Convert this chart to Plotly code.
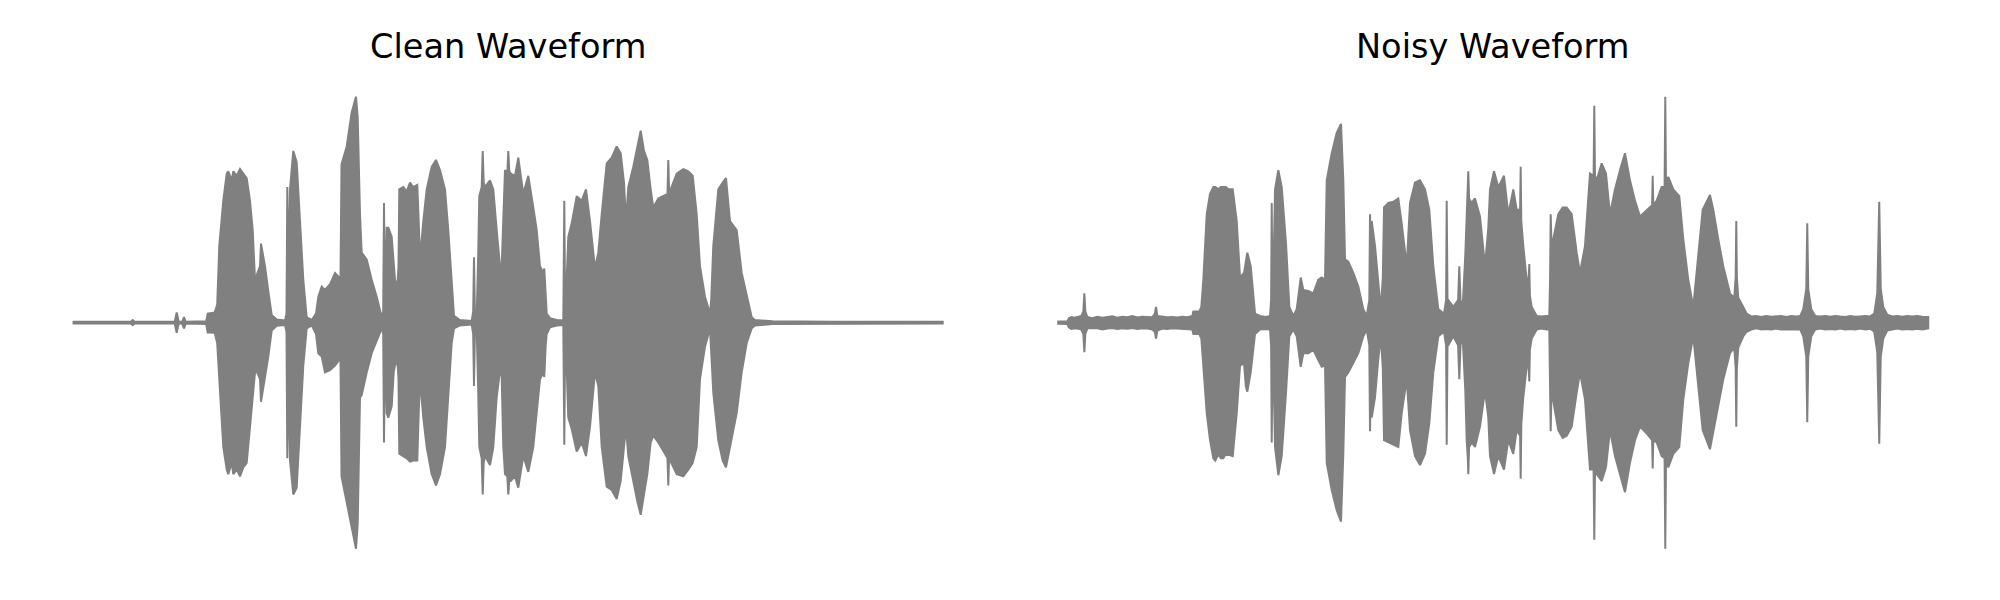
import plotly.graph_objects as go

# ---------------- data (envelope of the waveforms) ----------------
# time in frames, amplitude normalised
clean_t = [0, 58, 60, 62, 102, 104, 106, 109.5, 111.3, 113, 133.5, 135, 142, 144.5, 146.6, 150.6, 154, 155.6,
           159, 160.6, 164, 167.3, 170.6, 174, 177.3, 180, 182.3, 184.6, 187.3, 188.3, 190, 192.3, 195.6, 199,
           204, 212.3, 213.8, 214.6, 215.6, 217.3, 220.6, 224, 227.3, 230.6, 234, 239, 243.3, 245.6, 249, 252.3,
           257.3, 262.3, 266.6, 267.8, 268.8, 274, 279, 283.3, 285, 287.3, 289, 294, 299, 304, 309, 310.5, 311.3,
           312.3, 314, 315.6, 319, 321, 322.3, 324.6, 325.8, 326.6, 330.6, 334, 337.3, 340.6, 344.6, 346, 347.3,
           350.6, 354, 359, 363.3, 367.3, 372.3, 375.6, 379, 381.3, 387.3, 399, 400.5, 401.3, 402.2, 404, 405.5,
           406.6, 409, 410, 411, 412.3, 417.3, 420.6, 424, 427.3, 429, 430.6, 432.3, 434.6, 435.6, 436.6, 438,
           442.3, 445.6, 450.6, 455.6, 460.6, 464, 467.3, 470.6, 471.6, 473, 474, 477.3, 484, 490.6, 491.2, 491.6,
           492.2, 493.3, 495.6, 499, 504, 509, 513.3, 517.3, 522.3, 525.6, 529, 534, 539, 544, 548, 551.3, 553.3,
           555.6, 560.6, 564.6, 568, 571.3, 574.6, 578, 580.6, 585.6, 592.3, 594.8, 595.6, 596.4, 598, 604, 610.6,
           615.6, 620, 624, 627.3, 632.3, 637.3, 638.5, 640.6, 645.6, 650, 653.3, 657.3, 664, 669, 674, 679,
           682.3, 700, 760, 870]
clean_upper = [0.004, 0.004, 0.012, 0.004, 0.004, 0.045, 0.004, 0.004, 0.025, 0.004, 0.006, 0.04, 0.045, 0.08,
               0.34, 0.54, 0.66, 0.67, 0.63, 0.67, 0.65, 0.68, 0.66, 0.64, 0.54, 0.41, 0.19, 0.22, 0.25, 0.35,
               0.31, 0.25, 0.14, 0.034, 0.014, 0.01, 0.04, 0.60, 0.19, 0.59, 0.76, 0.71, 0.45, 0.19, 0.024, 0.012,
               0.04, 0.115, 0.16, 0.145, 0.17, 0.22, 0.20, 0.20, 0.70, 0.78, 0.93, 1.0, 0.91, 0.48, 0.31, 0.28,
               0.19, 0.115, 0.024, 0.05, 0.53, 0.08, 0.42, 0.42, 0.38, 0.25, 0.19, 0.16, 0.25, 0.59, 0.60, 0.58,
               0.62, 0.60, 0.61, 0.45, 0.28, 0.45, 0.59, 0.69, 0.72, 0.675, 0.59, 0.41, 0.16, 0.03, 0.012, 0.008,
               0.05, 0.29, 0.05, 0.03, 0.30, 0.56, 0.60, 0.76, 0.62, 0.60, 0.63, 0.59, 0.41, 0.25, 0.25, 0.48,
               0.675, 0.66, 0.76, 0.67, 0.66, 0.65, 0.73, 0.57, 0.65, 0.51, 0.41, 0.25, 0.22, 0.24, 0.10, 0.04,
               0.02, 0.012, 0.01, 0.20, 0.54, 0.20, 0.11, 0.38, 0.44, 0.56, 0.54, 0.59, 0.45, 0.24, 0.31, 0.48,
               0.705, 0.73, 0.78, 0.75, 0.62, 0.45, 0.60, 0.69, 0.78, 0.85, 0.76, 0.72, 0.59, 0.51, 0.55, 0.565,
               0.57, 0.72, 0.58, 0.59, 0.66, 0.68, 0.67, 0.65, 0.48, 0.25, 0.115, 0.04, 0.10, 0.34, 0.59, 0.62,
               0.64, 0.45, 0.41, 0.22, 0.115, 0.024, 0.012, 0.006, 0.004, 0.004]
clean_lower = [-0.004, -0.004, -0.010, -0.004, -0.004, -0.045, -0.004, -0.004, -0.025, -0.004, -0.006, -0.044,
               -0.045, -0.09, -0.25, -0.55, -0.65, -0.67, -0.62, -0.67, -0.65, -0.68, -0.64, -0.62, -0.47, -0.33,
               -0.22, -0.22, -0.25, -0.35, -0.31, -0.25, -0.15, -0.035, -0.014, -0.01, -0.04, -0.60, -0.19, -0.61,
               -0.76, -0.73, -0.47, -0.19, -0.025, -0.012, -0.05, -0.135, -0.15, -0.22, -0.21, -0.19, -0.165,
               -0.17, -0.68, -0.785, -0.90, -1.0, -0.89, -0.33, -0.32, -0.22, -0.135, -0.077, -0.025, -0.05, -0.53,
               -0.08, -0.40, -0.42, -0.37, -0.22, -0.19, -0.16, -0.25, -0.58, -0.59, -0.60, -0.615, -0.61, -0.61,
               -0.40, -0.25, -0.42, -0.55, -0.67, -0.72, -0.67, -0.55, -0.34, -0.09, -0.025, -0.012, -0.008, -0.05,
               -0.28, -0.05, -0.025, -0.30, -0.55, -0.60, -0.76, -0.62, -0.59, -0.63, -0.55, -0.33, -0.21, -0.24,
               -0.55, -0.67, -0.68, -0.76, -0.70, -0.70, -0.68, -0.73, -0.59, -0.66, -0.55, -0.40, -0.25, -0.22,
               -0.24, -0.10, -0.05, -0.02, -0.012, -0.01, -0.20, -0.54, -0.20, -0.11, -0.42, -0.47, -0.57, -0.53,
               -0.59, -0.46, -0.22, -0.28, -0.55, -0.725, -0.74, -0.78, -0.70, -0.55, -0.46, -0.59, -0.70, -0.79,
               -0.85, -0.755, -0.67, -0.53, -0.50, -0.53, -0.58, -0.60, -0.72, -0.60, -0.61, -0.67, -0.68, -0.65,
               -0.62, -0.55, -0.25, -0.106, -0.025, -0.10, -0.31, -0.52, -0.61, -0.64, -0.55, -0.40, -0.22, -0.09,
               -0.025, -0.012, -0.006, -0.004, -0.004]

noisy_t = [0, 10, 11.5, 14, 17, 20, 24, 26, 27, 28, 30, 35, 40, 45, 50, 55, 60, 65, 70, 75, 80, 85, 90, 95,
           97.5, 98.7, 100, 105, 110, 115, 120, 125, 130, 135, 136, 142, 144, 146, 149.4, 152.7, 156, 158, 161,
           163.5, 166, 168.5, 171, 175.4, 179.4, 182.7, 186.7, 188.5, 190, 193.4, 197.7, 202.7, 208, 212.7,
           213.8, 214.4, 215, 216, 217.7, 221, 224.4, 228.7, 232, 236, 239.4, 243.4, 246, 251, 256, 261, 264.4,
           267.7, 269.4, 274.4, 279.4, 283.7, 286, 287.7, 291, 296, 301, 306, 309.4, 312, 312.7, 313.5, 314.4,
           317.7, 321, 323.4, 325.5, 326.7, 331, 336, 341, 344.4, 349.4, 352.7, 357.7, 362.7, 367.7, 372, 376,
           381, 386.7, 388.8, 389.4, 390.2, 391, 396, 400.8, 402, 403.2, 405.4, 408, 409.4, 410.5, 411, 411.8,
           414.4, 417.7, 422.7, 427.7, 431, 432.7, 436.7, 441, 446.7, 451, 456, 459.4, 462.8, 463.4, 464, 466,
           469.4, 471.4, 472, 472.6, 474.4, 479.4, 484, 489.4, 492, 492.8, 493.4, 494.2, 496, 501, 505.4, 509.4,
           514.4, 519.4, 522.7, 527.7, 532.7, 536.3, 537, 537.7, 539.4, 544.4, 548.7, 552.7, 557.7, 562.7, 567.7,
           572.7, 577.7, 582.7, 589.4, 594.8, 595.4, 596, 599.4, 604.4, 607.3, 608, 608.7, 611, 616, 622, 626,
           631, 636, 641, 645.4, 652.7, 656, 661, 666, 672.7, 677, 678.4, 679, 679.6, 681, 686, 689.4, 694, 699,
           704, 709, 714, 719, 724, 729, 734, 739, 743, 746, 749, 750, 751, 754, 758, 763, 768, 773, 778, 783,
           788, 793, 798, 803, 808, 813, 817, 820, 822, 823.5, 826, 830, 835, 840, 845, 850, 855, 860, 865, 871]
noisy_upper = [0.005, 0.006, 0.02, 0.025, 0.022, 0.024, 0.03, 0.05, 0.13, 0.05, 0.025, 0.02, 0.026, 0.022,
               0.025, 0.028, 0.022, 0.026, 0.024, 0.03, 0.023, 0.026, 0.025, 0.024, 0.04, 0.07, 0.03, 0.026,
               0.024, 0.025, 0.023, 0.026, 0.024, 0.03, 0.05, 0.05, 0.07, 0.19, 0.48, 0.57, 0.60, 0.60, 0.59, 0.60,
               0.60, 0.60, 0.59, 0.59, 0.45, 0.20, 0.22, 0.28, 0.31, 0.25, 0.04, 0.03, 0.025, 0.03, 0.10, 0.53,
               0.20, 0.19, 0.59, 0.675, 0.60, 0.35, 0.07, 0.03, 0.06, 0.20, 0.145, 0.14, 0.13, 0.19, 0.20, 0.19,
               0.63, 0.75, 0.84, 0.88, 0.63, 0.28, 0.27, 0.22, 0.16, 0.06, 0.03, 0.10, 0.48, 0.30, 0.45, 0.34,
               0.16, 0.06, 0.20, 0.51, 0.53, 0.535, 0.55, 0.44, 0.25, 0.53, 0.62, 0.63, 0.59, 0.50, 0.25, 0.06,
               0.04, 0.10, 0.54, 0.10, 0.10, 0.07, 0.10, 0.25, 0.10, 0.07, 0.30, 0.51, 0.60, 0.67, 0.55, 0.53,
               0.55, 0.47, 0.25, 0.42, 0.59, 0.67, 0.60, 0.65, 0.48, 0.59, 0.50, 0.50, 0.69, 0.45, 0.34, 0.19,
               0.20, 0.26, 0.12, 0.07, 0.03, 0.028, 0.03, 0.03, 0.20, 0.48, 0.35, 0.37, 0.48, 0.51, 0.51, 0.48,
               0.31, 0.22, 0.34, 0.66, 0.65, 0.96, 0.65, 0.63, 0.705, 0.66, 0.48, 0.59, 0.675, 0.75, 0.63, 0.54,
               0.47, 0.50, 0.52, 0.65, 0.52, 0.54, 0.60, 0.60, 1.0, 0.62, 0.645, 0.59, 0.56, 0.37, 0.19, 0.07,
               0.29, 0.50, 0.565, 0.50, 0.37, 0.25, 0.13, 0.11, 0.20, 0.45, 0.20, 0.11, 0.07, 0.04, 0.028, 0.03,
               0.025, 0.03, 0.026, 0.028, 0.03, 0.025, 0.03, 0.027, 0.03, 0.06, 0.15, 0.44, 0.15, 0.06, 0.03,
               0.028, 0.03, 0.026, 0.03, 0.027, 0.025, 0.03, 0.026, 0.028, 0.03, 0.028, 0.04, 0.13, 0.535, 0.15,
               0.07, 0.035, 0.028, 0.03, 0.026, 0.03, 0.027, 0.03, 0.026, 0.025]
noisy_lower = [-0.005, -0.006, -0.02, -0.028, -0.025, -0.026, -0.03, -0.05, -0.13, -0.05, -0.025, -0.024,
               -0.025, -0.03, -0.026, -0.024, -0.028, -0.025, -0.027, -0.024, -0.028, -0.025, -0.026, -0.03,
               -0.04, -0.07, -0.035, -0.026, -0.028, -0.025, -0.027, -0.026, -0.028, -0.03, -0.05, -0.05, -0.07,
               -0.18, -0.40, -0.52, -0.60, -0.61, -0.58, -0.60, -0.60, -0.58, -0.585, -0.59, -0.40, -0.19, -0.18,
               -0.28, -0.305, -0.22, -0.05, -0.03, -0.028, -0.03, -0.10, -0.53, -0.20, -0.19, -0.55, -0.675, -0.59,
               -0.31, -0.06, -0.03, -0.06, -0.195, -0.135, -0.135, -0.12, -0.165, -0.195, -0.19, -0.62, -0.74,
               -0.83, -0.88, -0.58, -0.24, -0.22, -0.18, -0.135, -0.06, -0.03, -0.10, -0.48, -0.30, -0.42, -0.33,
               -0.16, -0.06, -0.20, -0.52, -0.53, -0.54, -0.55, -0.40, -0.25, -0.475, -0.59, -0.63, -0.58, -0.445,
               -0.22, -0.06, -0.04, -0.10, -0.54, -0.10, -0.10, -0.06, -0.10, -0.25, -0.10, -0.07, -0.30, -0.52,
               -0.60, -0.67, -0.55, -0.53, -0.55, -0.46, -0.30, -0.42, -0.59, -0.67, -0.59, -0.65, -0.52, -0.58,
               -0.475, -0.50, -0.69, -0.45, -0.33, -0.195, -0.20, -0.26, -0.12, -0.07, -0.03, -0.026, -0.03,
               -0.03, -0.20, -0.48, -0.30, -0.34, -0.475, -0.51, -0.50, -0.46, -0.31, -0.22, -0.34, -0.65, -0.65,
               -0.96, -0.67, -0.67, -0.70, -0.64, -0.475, -0.59, -0.67, -0.75, -0.62, -0.52, -0.46, -0.49, -0.52,
               -0.645, -0.52, -0.53, -0.59, -0.60, -1.0, -0.62, -0.64, -0.58, -0.55, -0.34, -0.18, -0.06, -0.28,
               -0.475, -0.56, -0.475, -0.37, -0.25, -0.135, -0.11, -0.20, -0.46, -0.20, -0.11, -0.06, -0.04,
               -0.03, -0.025, -0.03, -0.028, -0.03, -0.026, -0.03, -0.028, -0.027, -0.03, -0.03, -0.06, -0.15,
               -0.44, -0.15, -0.06, -0.03, -0.026, -0.03, -0.028, -0.03, -0.026, -0.03, -0.028, -0.03, -0.026,
               -0.03, -0.027, -0.04, -0.13, -0.535, -0.15, -0.07, -0.035, -0.03, -0.026, -0.03, -0.028, -0.03,
               -0.027, -0.03, -0.025]

titles = ["Clean Waveform", "Noisy Waveform"]

# ---------------- figure ----------------
GRAY = "#808080"
fig = go.Figure()
for i, (t, up, lo) in enumerate([(clean_t, clean_upper, clean_lower), (noisy_t, noisy_upper, noisy_lower)]):
    xs = list(t) + list(t)[::-1]
    ys = list(up) + list(lo)[::-1]
    fig.add_trace(go.Scatter(x=xs, y=ys, mode="lines", fill="toself", fillcolor=GRAY,
                             line=dict(color=GRAY, width=2), hoverinfo="skip",
                             xaxis="x" if i == 0 else "x2", yaxis="y" if i == 0 else "y2",
                             showlegend=False))

def xr(t):
    span = max(t) - min(t)
    return [min(t) - 0.05 * span, max(t) + 0.05 * span]

ax = dict(visible=False, showgrid=False, zeroline=False)
# the page body has an 8px margin, so the figure is 1992x592 placed at (8, 8)
fig.update_layout(
    width=1992, height=592,
    margin=dict(l=0, r=0, t=0, b=0),
    paper_bgcolor="white", plot_bgcolor="white",
    xaxis=dict(domain=[0.01064, 0.49106], range=xr(clean_t), **ax),
    xaxis2=dict(domain=[0.50492, 0.98584], range=xr(noisy_t), **ax),
    yaxis=dict(domain=[0.04848, 0.88834], range=[-1.1, 1.1], anchor="x", **ax),
    yaxis2=dict(domain=[0.04848, 0.88834], range=[-1.1, 1.1], anchor="x2", **ax),
    annotations=[
        dict(text=titles[0], x=0.25085, y=0.9355, xref="paper", yref="paper", xanchor="center",
             yanchor="middle", showarrow=False, font=dict(family="DejaVu Sans", size=33.6, color="black")),
        dict(text=titles[1], x=0.74538, y=0.9355, xref="paper", yref="paper", xanchor="center",
             yanchor="middle", showarrow=False, font=dict(family="DejaVu Sans", size=33.6, color="black")),
    ],
)
fig.write_html("out.html")
